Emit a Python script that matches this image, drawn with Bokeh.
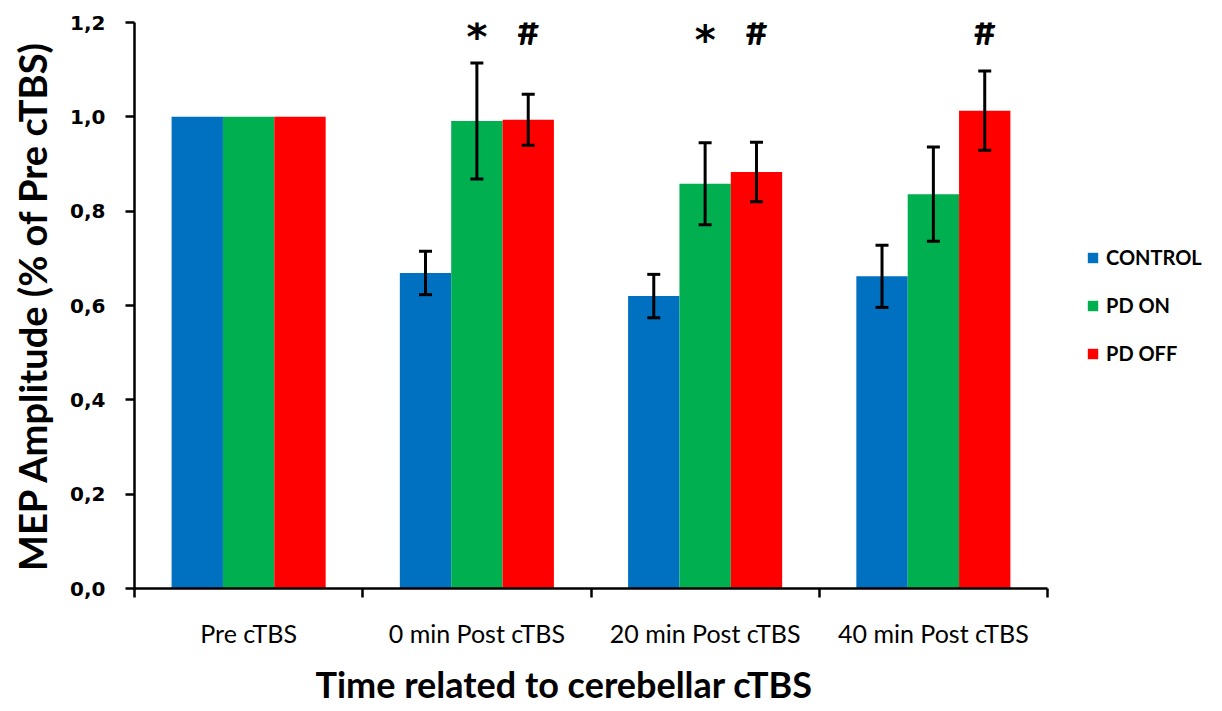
from bokeh.plotting import figure
from bokeh.models import (ColumnDataSource, Range1d, FixedTicker, Whisker, TeeHead,
                          Legend, LegendItem, LabelSet, Title)
from bokeh.embed import file_html
from bokeh.resources import INLINE
import numpy as np

# ---- data ----
categories = ["Pre cTBS", "0 min Post cTBS", "20 min Post cTBS", "40 min Post cTBS"]
series = ["CONTROL", "PD ON", "PD OFF"]
control_mean = [1.0, 0.669, 0.620, 0.662]
control_err = [0.0, 0.046, 0.046, 0.066]
pd_on_mean = [1.0, 0.991, 0.858, 0.836]
pd_on_err = [0.0, 0.123, 0.087, 0.100]
pd_off_mean = [1.0, 0.994, 0.883, 1.013]
pd_off_err = [0.0, 0.054, 0.063, 0.084]
y_ticks = [0.0, 0.2, 0.4, 0.6, 0.8, 1.0, 1.2]
y_tick_labels = ["0,0", "0,2", "0,4", "0,6", "0,8", "1,0", "1,2"]
# significance marks: (category index, series index, symbol)
sig_cat = [1, 1, 2, 2, 3]
sig_series = [1, 2, 1, 2, 2]
sig_text = ["*", "#", "*", "#", "#"]
sig_level = [1.182, 1.184, 1.176, 1.184, 1.184]

colors = ["#0070C0", "#00B050", "#FF0000"]
means = [control_mean, pd_on_mean, pd_off_mean]
errs = [control_err, pd_on_err, pd_off_err]

FONT = "Lato"
bar_w = 0.225
offsets = [-bar_w, 0.0, bar_w]
centers = np.arange(len(categories)) + 0.5

p = figure(frame_width=913, frame_height=566, output_backend="svg", toolbar_location=None,
           x_range=Range1d(0, len(categories)), y_range=Range1d(0, 1.2),
           min_border_left=134, min_border_top=22, min_border_bottom=100,
           min_border_right=0)
p.outline_line_color = None
p.grid.grid_line_color = None
p.background_fill_color = "white"

renderers = []
for k, name in enumerate(series):
    xs = centers + offsets[k]
    m = np.array(means[k])
    e = np.array(errs[k])
    src = ColumnDataSource(dict(x=xs, top=m))
    r = p.vbar(x="x", top="top", width=bar_w, bottom=0, source=src,
               fill_color=colors[k], line_color=None)
    renderers.append(r)
    mask = e > 0
    wsrc = ColumnDataSource(dict(x=xs[mask], upper=(m + e)[mask], lower=(m - e)[mask]))
    w = Whisker(source=wsrc, base="x", upper="upper", lower="lower", level="overlay",
                line_width=3, line_color="black",
                upper_head=TeeHead(size=13, line_width=3, line_color="black"),
                lower_head=TeeHead(size=13, line_width=3, line_color="black"))
    p.add_layout(w)

sig_x = [centers[c] + offsets[s] for c, s in zip(sig_cat, sig_series)]
sig_src = ColumnDataSource(dict(
    x=sig_x, y=sig_level, text=sig_text,
    size=["40px" if t == "*" else "38px" for t in sig_text],
    font=["DejaVu Sans" if t == "*" else FONT for t in sig_text],
    yoff=[-6 if t == "*" else 0 for t in sig_text]))
labels = LabelSet(x="x", y="y", text="text", source=sig_src, y_offset="yoff",
                  text_font="font", text_font_style="bold", text_font_size="size",
                  text_align="center", text_baseline="middle", text_color="black",
                  level="overlay")
p.add_layout(labels)

# x axis
xa = p.xaxis[0]
xa.ticker = FixedTicker(ticks=list(centers), minor_ticks=list(range(len(categories) + 1)))
xa.major_label_overrides = {float(c): lab for c, lab in zip(centers, categories)}
xa.major_tick_out = 0
xa.major_tick_in = 0
xa.minor_tick_out = 9
xa.minor_tick_in = 0
xa.minor_tick_line_width = 2.5
xa.minor_tick_line_color = "black"
xa.axis_line_width = 2.5
xa.axis_line_color = "black"
xa.major_label_standoff = 20
xa.major_label_text_font = FONT
xa.major_label_text_font_size = "25px"
xa.major_label_text_color = "black"

xtitle = Title(text="Time related to cerebellar cTBS", align="left", offset=181,
               text_font=FONT, text_font_style="bold", text_font_size="36px",
               text_color="black", standoff=19)
p.add_layout(xtitle, "below")

# y axis
ya = p.yaxis[0]
ya.ticker = FixedTicker(ticks=y_ticks, minor_ticks=[])
ya.major_label_overrides = {t: lab for t, lab in zip(y_ticks, y_tick_labels)}
ya.major_tick_out = 9
ya.major_tick_in = 0
ya.major_tick_line_width = 2.5
ya.major_tick_line_color = "black"
ya.axis_line_width = 2.5
ya.axis_line_color = "black"
ya.major_label_standoff = 20
ya.major_label_text_font = "DejaVu Sans"
ya.major_label_text_font_style = "bold"
ya.major_label_text_font_size = "20px"
ya.major_label_text_color = "black"
ya.axis_label = "MEP Amplitude (% of Pre cTBS)"
ya.axis_label_text_font = FONT
ya.axis_label_text_font_style = "bold"
ya.axis_label_text_font_size = "38px"
ya.axis_label_text_color = "black"
ya.axis_label_standoff = 12

legend = Legend(items=[LegendItem(label=n, renderers=[r]) for n, r in zip(series, renderers)],
                location="center_left", orientation="vertical",
                label_text_font=FONT, label_text_font_style="bold",
                label_text_font_size="20px", label_text_color="black",
                glyph_width=13, glyph_height=13, label_standoff=7, label_height=22,
                spacing=24, padding=0, margin=39, border_line_color=None,
                background_fill_color="white")
p.add_layout(legend, "right")

open("out.html", "w").write(file_html(p, INLINE))
